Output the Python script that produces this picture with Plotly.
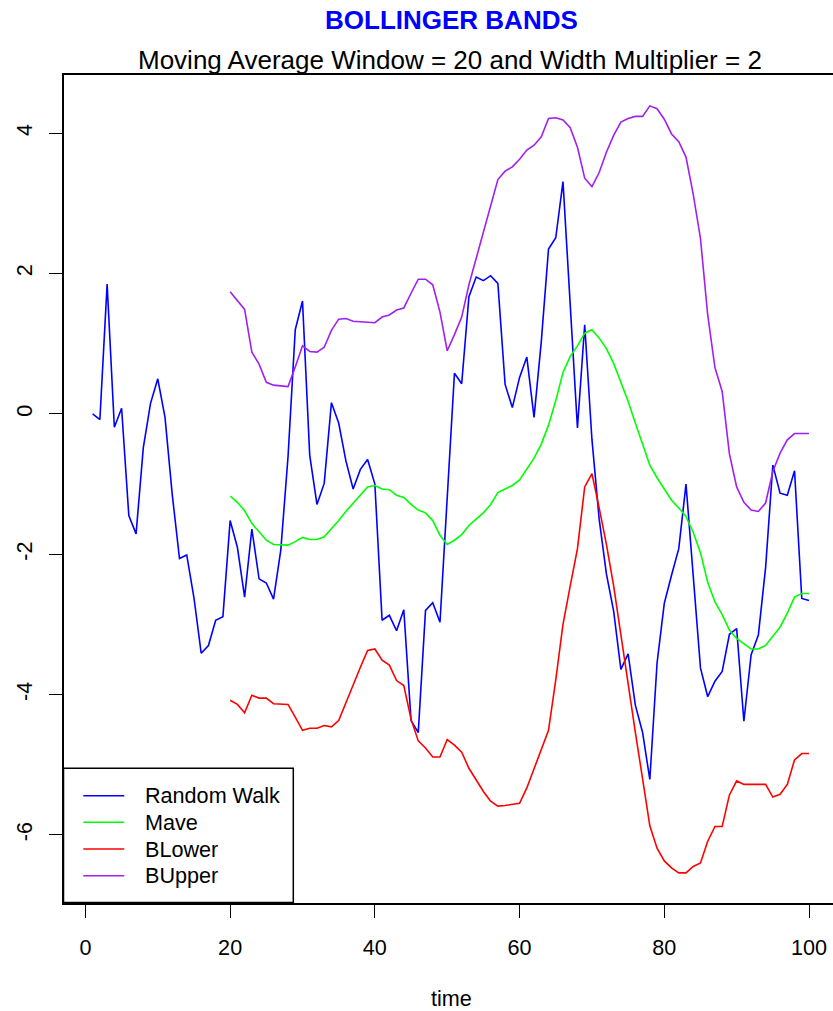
import plotly.graph_objects as go

# ---------------- data ----------------
time = list(range(1, 101))

random_walk = [
    0.00, -0.08, 1.85, -0.19, 0.08, -1.45, -1.71, -0.48, 0.15, 0.50,
    -0.05, -1.15, -2.06, -2.01, -2.62, -3.41, -3.30, -2.94, -2.89, -1.52,
    -1.90, -2.61, -1.64, -2.35, -2.41, -2.64, -1.94, -0.61, 1.20, 1.61,
    -0.59, -1.29, -0.99, 0.16, -0.13, -0.67, -1.07, -0.79, -0.65, -1.00,
    -2.94, -2.87, -3.09, -2.79, -4.37, -4.54, -2.80, -2.69, -2.97, -1.20,
    0.58, 0.43, 1.67, 1.95, 1.90, 1.97, 1.86, 0.42, 0.09, 0.52,
    0.81, -0.05, 1.03, 2.35, 2.51, 3.31, 1.60, -0.20, 1.27, -0.36,
    -1.50, -2.28, -2.81, -3.64, -3.42, -4.15, -4.54, -5.21, -3.55, -2.70,
    -2.30, -1.92, -1.00, -2.30, -3.62, -4.03, -3.81, -3.67, -3.14, -3.06,
    -4.38, -3.43, -3.15, -2.19, -0.73, -1.13, -1.16, -0.81, -2.63, -2.66,
]

band_time = list(range(20, 101))

mave = [
    -1.17, -1.26, -1.38, -1.56, -1.68, -1.80, -1.86, -1.86, -1.87, -1.82,
    -1.76, -1.79, -1.79, -1.75, -1.64, -1.52, -1.39, -1.27, -1.15, -1.04,
    -1.02, -1.07, -1.08, -1.16, -1.19, -1.29, -1.37, -1.41, -1.52, -1.73,
    -1.86, -1.80, -1.72, -1.59, -1.50, -1.41, -1.29, -1.12, -1.07, -1.02,
    -0.94, -0.79, -0.63, -0.43, -0.16, 0.19, 0.59, 0.82, 0.97, 1.15,
    1.20, 1.08, 0.93, 0.72, 0.46, 0.18, -0.13, -0.42, -0.73, -0.91,
    -1.07, -1.23, -1.34, -1.46, -1.69, -1.98, -2.40, -2.68, -2.86, -3.08,
    -3.20, -3.28, -3.35, -3.35, -3.30, -3.17, -3.04, -2.84, -2.61, -2.56,
    -2.56,
]

b_lower = [
    -4.08, -4.14, -4.26, -4.01, -4.05, -4.05, -4.13, -4.14, -4.14, -4.32,
    -4.51, -4.48, -4.48, -4.44, -4.46, -4.37, -4.11, -3.85, -3.61, -3.37,
    -3.35, -3.51, -3.58, -3.80, -3.87, -4.35, -4.66, -4.76, -4.89, -4.89,
    -4.64, -4.72, -4.82, -5.05, -5.22, -5.38, -5.52, -5.59, -5.58, -5.57,
    -5.55, -5.33, -5.05, -4.76, -4.51, -3.79, -3.00, -2.45, -1.92, -1.04,
    -0.85, -1.34, -1.86, -2.45, -3.17, -3.89, -4.54, -5.20, -5.87, -6.19,
    -6.37, -6.47, -6.54, -6.54, -6.45, -6.40, -6.09, -5.88, -5.88, -5.43,
    -5.23, -5.28, -5.28, -5.29, -5.28, -5.46, -5.42, -5.28, -4.93, -4.84,
    -4.84,
]

b_upper = [
    1.74, 1.62, 1.49, 0.88, 0.71, 0.45, 0.41, 0.40, 0.39, 0.67,
    0.97, 0.89, 0.88, 0.95, 1.19, 1.35, 1.36, 1.32, 1.31, 1.30,
    1.30, 1.38, 1.41, 1.48, 1.51, 1.72, 1.92, 1.92, 1.84, 1.45,
    0.90, 1.13, 1.38, 1.84, 2.22, 2.57, 2.95, 3.34, 3.46, 3.52,
    3.63, 3.76, 3.83, 3.95, 4.21, 4.22, 4.19, 4.08, 3.80, 3.36,
    3.24, 3.44, 3.73, 3.97, 4.16, 4.21, 4.24, 4.24, 4.39, 4.35,
    4.20, 3.99, 3.88, 3.66, 3.13, 2.50, 1.41, 0.66, 0.32, -0.57,
    -1.04, -1.26, -1.37, -1.39, -1.27, -0.82, -0.56, -0.37, -0.28, -0.28,
    -0.28,
]

series_names = ["Random Walk", "Mave", "BLower", "BUpper"]
series_colors = ["#0000FF", "#00FF00", "#FF0000", "#A020F0"]

x_ticks = [0, 20, 40, 60, 80, 100]
y_ticks = [-6, -4, -2, 0, 2, 4]
y_tick_text = ["-6", "-4", "-2", "0", "2", "4"]

main_title = "BOLLINGER BANDS"
sub_title = "Moving Average Window = 20 and Width Multiplier = 2"
x_title = "time"

# ---------------- figure ----------------
FONT = "Liberation Sans, Arial, Helvetica, sans-serif"
W, H = 833, 1011
ML, MR, MT, MB = 64, 0, 75, 108
PW, PH = W - ML - MR, H - MT - MB

fig = go.Figure()
xs = [time, band_time, band_time, band_time]
ys = [random_walk, mave, b_lower, b_upper]
for name, col, xv, yv in zip(series_names, series_colors, xs, ys):
    fig.add_trace(go.Scatter(x=xv, y=yv, mode="lines", name=name,
                             line=dict(color=col, width=1.6),
                             showlegend=False))

def px_x(p):
    return (p - ML) / PW

def px_y(p):
    return (MT + PH - p) / PH

shapes = []
annotations = []
# legend box (R style)
shapes.append(dict(type="rect", xref="paper", yref="paper",
                   x0=px_x(63.5), x1=px_x(293.3), y0=px_y(902.5), y1=px_y(768.3),
                   line=dict(color="black", width=1.5), fillcolor="white", layer="above"))
rows = [795.7, 822.3, 849.0, 875.7]
for name, col, r in zip(series_names, series_colors, rows):
    shapes.append(dict(type="line", xref="paper", yref="paper",
                       x0=px_x(83.3), x1=px_x(124.3), y0=px_y(r), y1=px_y(r),
                       line=dict(color=col, width=1.6), layer="above"))
    annotations.append(dict(text=name, xref="paper", yref="paper",
                            x=px_x(143), y=px_y(r), xanchor="left", yanchor="middle",
                            showarrow=False, font=dict(family=FONT, size=21.6, color="black")))

annotations.append(dict(text="<b>" + main_title + "</b>", xref="paper", yref="paper",
                        x=px_x(451), y=px_y(20), xanchor="center", yanchor="middle",
                        showarrow=False, font=dict(family=FONT, size=26, color="#0000FF")))
annotations.append(dict(text=sub_title, xref="paper", yref="paper",
                        x=px_x(450), y=px_y(60), xanchor="center", yanchor="middle",
                        showarrow=False, font=dict(family=FONT, size=26, color="black")))
annotations.append(dict(text=x_title, xref="paper", yref="paper",
                        x=px_x(451), y=px_y(998), xanchor="center", yanchor="middle",
                        showarrow=False, font=dict(family=FONT, size=21.6, color="black")))

fig.update_layout(
    width=W, height=H, autosize=False,
    margin=dict(l=ML, r=MR, t=MT, b=MB, pad=0),
    paper_bgcolor="white", plot_bgcolor="white",
    font=dict(family=FONT, size=21.6, color="black"),
    shapes=shapes, annotations=annotations, showlegend=False,
)
fig.update_xaxes(range=[-2.96, (W - MR - 85) / 7.24], tickvals=x_ticks,
                 ticks="outside", ticklen=13, tickwidth=1.3, tickcolor="black",
                 showline=True, linewidth=2, linecolor="black", mirror=True,
                 showgrid=False, zeroline=False, ticklabelstandoff=11,
                 tickfont=dict(family=FONT, size=21.6, color="black"))
fig.update_yaxes(range=[-6.97, 4.83], tickvals=y_ticks, ticktext=y_tick_text,
                 ticks="outside", ticklen=13, tickwidth=1.3, tickcolor="black",
                 showline=True, linewidth=2, linecolor="black", mirror=False,
                 showgrid=False, zeroline=False, tickangle=-90, ticklabelstandoff=8,
                 tickfont=dict(family=FONT, size=21.6, color="black"))

fig.write_html("out.html", config={"displayModeBar": False},
               post_script="document.body.style.margin='0';")
